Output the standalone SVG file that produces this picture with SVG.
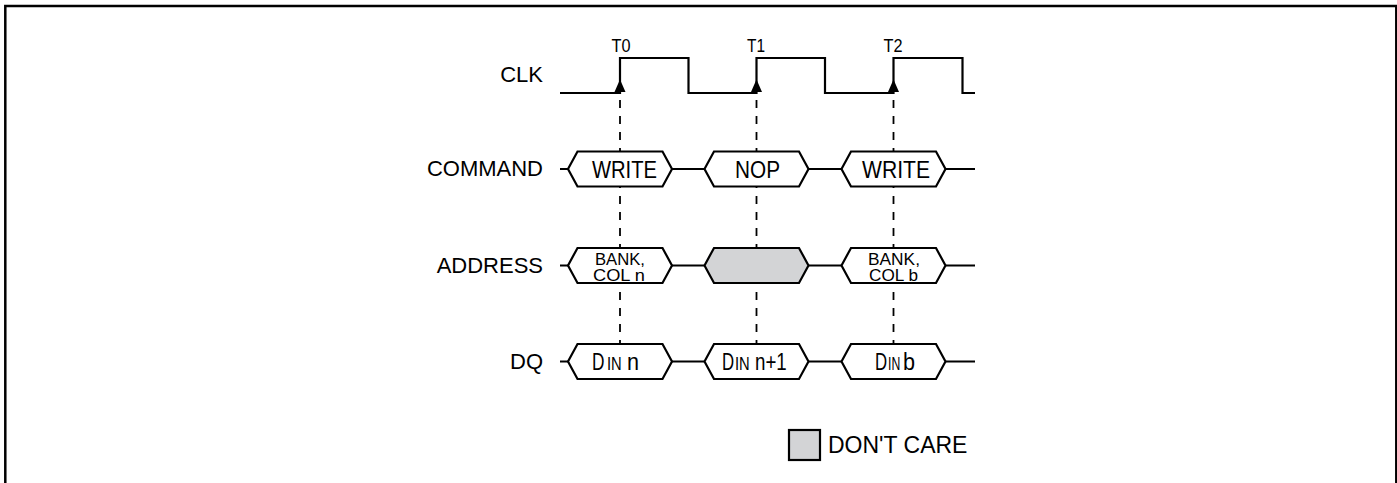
<svg xmlns="http://www.w3.org/2000/svg" width="1397" height="483" viewBox="0 0 1397 483">
<style>
.t{font-family:"Liberation Sans",Arial,Helvetica,sans-serif;fill:#000}
.lbl{font-size:22px;text-anchor:end}
.bx{font-size:24px;text-anchor:middle}
.sm{font-size:17px;text-anchor:middle}
.tk{font-size:19px;text-anchor:middle}
.d{font-size:24px}
.in{font-size:18px}
.w{fill:none;stroke:#000;stroke-width:2.2;stroke-linejoin:miter}
.hex{fill:#fff;stroke:#000;stroke-width:2.2;stroke-linejoin:miter}
.dc{fill:#d3d4d6;stroke:#000;stroke-width:2.2}
.dash{fill:none;stroke:#000;stroke-width:1.8;stroke-dasharray:8 8}
</style>
<defs>
<path id="arr" d="M0,-12.5 L5.5,0 L-5.5,0 Z" fill="#000"/>
<path id="hx" d="M-52,0 L-42.5,-17.5 L42.5,-17.5 L52,0 L42.5,17.5 L-42.5,17.5 Z"/>
</defs>
<rect x="5.3" y="6" width="1391" height="500" fill="none" stroke="#000" stroke-width="2.5"/>

<g id="connectors">
<path class="dash" d="M620,100 V361 M756.5,100 V361 M893.5,100 V361"/>
<path class="w" d="M560,169 H568 M672,169 H704.5 M808.5,169 H841.5 M945.5,169 H975"/>
<path class="w" d="M560,265.5 H568 M672,265.5 H704.5 M808.5,265.5 H841.5 M945.5,265.5 H975"/>
<path class="w" d="M560,361.5 H568 M672,361.5 H704.5 M808.5,361.5 H841.5 M945.5,361.5 H975"/>
</g>

<g id="clk">
<text class="t lbl" x="543" y="82">CLK</text>
<path class="w" d="M560,93 H620 V58 H688.5 V93 H756.5 V58 H825 V93 H893.5 V58 H962.5 V93 H975"/>
<use href="#arr" x="620" y="92"/>
<use href="#arr" x="756.5" y="92"/>
<use href="#arr" x="893.5" y="92"/>
<text class="t tk" x="621" y="52" textLength="19" lengthAdjust="spacingAndGlyphs">T0</text>
<text class="t tk" x="756" y="52" textLength="18" lengthAdjust="spacingAndGlyphs">T1</text>
<text class="t tk" x="893" y="52" textLength="19" lengthAdjust="spacingAndGlyphs">T2</text>
</g>

<g id="command">
<text class="t lbl" x="543" y="176">COMMAND</text>
<g id="cmd-write0"><use href="#hx" class="hex" x="620" y="169"/><text class="t bx" x="624.5" y="177.5" textLength="65" lengthAdjust="spacingAndGlyphs">WRITE</text></g>
<g id="cmd-nop"><use href="#hx" class="hex" x="756.5" y="169"/><text class="t bx" x="757.5" y="177.5" textLength="45" lengthAdjust="spacingAndGlyphs">NOP</text></g>
<g id="cmd-write2"><use href="#hx" class="hex" x="893.5" y="169"/><text class="t bx" x="896" y="177.5" textLength="68" lengthAdjust="spacingAndGlyphs">WRITE</text></g>
</g>

<g id="address">
<text class="t lbl" x="543" y="273">ADDRESS</text>
<g id="addr-0"><use href="#hx" class="hex" x="620" y="265.5"/>
<text class="t sm" x="620" y="264.5" textLength="50" lengthAdjust="spacingAndGlyphs">BANK,</text>
<text class="t sm" x="619" y="281" textLength="52" lengthAdjust="spacingAndGlyphs">COL n</text></g>
<g id="addr-1"><use href="#hx" class="dc" x="756.5" y="265.5"/></g>
<g id="addr-2"><use href="#hx" class="hex" x="893.5" y="265.5"/>
<text class="t sm" x="894" y="264.5" textLength="52" lengthAdjust="spacingAndGlyphs">BANK,</text>
<text class="t sm" x="893.5" y="281" textLength="49" lengthAdjust="spacingAndGlyphs">COL b</text></g>
</g>

<g id="dq">
<text class="t lbl" x="543" y="369">DQ</text>
<g id="dq-0"><use href="#hx" class="hex" x="620" y="361.5"/>
<text class="t d" transform="translate(592,370) scale(0.72,1)">D</text>
<text class="t in" transform="translate(607,370) scale(0.82,1)">IN</text>
<text class="t d" transform="translate(627,370) scale(0.9,1)">n</text></g>
<g id="dq-1"><use href="#hx" class="hex" x="756.5" y="361.5"/>
<text class="t d" transform="translate(722,370) scale(0.7,1)">D</text>
<text class="t in" transform="translate(735,370) scale(0.82,1)">IN</text>
<text class="t d" transform="translate(755,370) scale(0.78,1)">n+1</text></g>
<g id="dq-2"><use href="#hx" class="hex" x="893.5" y="361.5"/>
<text class="t d" transform="translate(875,370) scale(0.7,1)">D</text>
<text class="t in" transform="translate(888,370) scale(0.68,1)">IN</text>
<text class="t d" transform="translate(903,370) scale(0.9,1)">b</text></g>
</g>

<g id="legend">
<rect class="dc" x="789" y="430" width="31" height="30"/>
<text class="t" x="828" y="453" font-size="23">DON'T CARE</text>
</g>
</svg>
